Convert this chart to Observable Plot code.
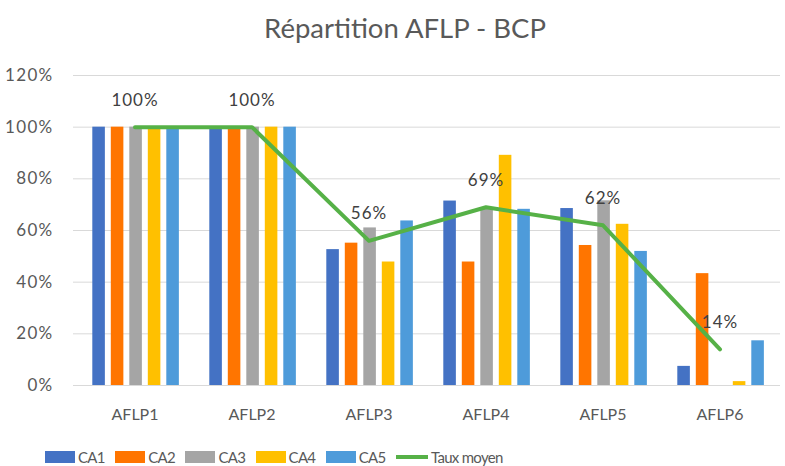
<!DOCTYPE html>
<html><head><meta charset="utf-8">
<script src="https://cdn.jsdelivr.net/npm/d3@7"></script>
<script src="https://cdn.jsdelivr.net/npm/@observablehq/plot@0.6"></script>
<style>
body{margin:0;background:#fff;font-family:Lato,"Open Sans",sans-serif;}
#wrap{position:relative;width:785px;height:466px;overflow:hidden;}
#title{position:absolute;top:11px;left:0;width:810px;text-align:center;font-size:27.5px;color:#595959;}
#chart{position:absolute;top:55px;left:0;}
#legend{position:absolute;top:448px;left:45px;display:flex;align-items:center;font-size:15px;letter-spacing:-0.7px;color:#595959;}
.item{display:flex;align-items:center;width:70.2px;}
.sw{width:30px;height:12px;margin-right:3px;flex:none;}
.ln{width:32px;height:4px;margin-right:3px;flex:none;}
#chart g[aria-label="y-axis tick label"] text{font-size:17px;letter-spacing:1.3px;}
#chart g[aria-label="text"] text{font-size:17px;letter-spacing:1px;}
</style></head>
<body><div id="wrap"><div id="title">Répartition AFLP - BCP</div><div id="chart"></div><div id="legend"></div></div>
<script>
const categories = ["AFLP1","AFLP2","AFLP3","AFLP4","AFLP5","AFLP6"];
const seriesNames = ["CA1","CA2","CA3","CA4","CA5"];
const ca1 = [100,100,52.6,71.4,68.5,7.4];
const ca2 = [100,100,55.1,47.8,54.2,43.3];
const ca3 = [100,100,61.0,68.2,71.5,0];
const ca4 = [100,100,47.8,89.1,62.4,1.5];
const ca5 = [100,100,63.7,68.2,51.9,17.3];
const tauxMoyen = [100,100,56,69,62,14];
const meanLabels = ["100%","100%","56%","69%","62%","14%"];
const yTicks = [0,20,40,60,80,100,120];
const colors = ["#4472C4","#FF7500","#A5A5A5","#FFC000","#4E9BDA"];
const lineColor = "#56B147";

const seriesValues = [ca1,ca2,ca3,ca4,ca5];
const W = 785, H = 375, mL = 73, mR = 5;
const bw = (W - mL - mR) / categories.length;
const barW = 13.4, pitch = 18.5, off = 16.3;

const barMarks = seriesNames.map((s, i) => {
  const rows = categories.map((c, j) => ({cat: c, value: seriesValues[i][j]}));
  const il = off + i * pitch;
  return Plot.barY(rows, {x: "cat", y: "value", fill: colors[i], insetLeft: il, insetRight: bw - il - barW});
});
const meanRows = categories.map((c, j) => ({cat: c, value: tauxMoyen[j], label: meanLabels[j]}));

const chart = Plot.plot({
  width: W, height: H,
  marginTop: 20, marginBottom: 45, marginLeft: mL, marginRight: mR,
  style: {fontFamily: "Lato, 'Open Sans', sans-serif", fontSize: "16px", color: "#595959", background: "transparent"},
  x: {domain: categories, padding: 0, tickSize: 0, tickPadding: 23, label: null},
  y: {domain: [0, 120], ticks: yTicks, tickSize: 0, tickPadding: 20, tickFormat: d => d + "%", label: null},
  marks: [
    Plot.ruleY(yTicks, {stroke: "#D9D9D9", strokeWidth: 1}),
    ...barMarks,
    Plot.lineY(meanRows, {x: "cat", y: "value", stroke: lineColor, strokeWidth: 4, strokeLinejoin: "round", strokeLinecap: "round"}),
    Plot.text(meanRows, {x: "cat", y: "value", text: "label", dy: -27, fontSize: 17, fill: "#404040"})
  ]
});
document.getElementById("chart").appendChild(chart);

const legend = document.getElementById("legend");
seriesNames.forEach((s, i) => {
  const it = document.createElement("div"); it.className = "item";
  it.innerHTML = `<div class="sw" style="background:${colors[i]}"></div><span>${s}</span>`;
  legend.appendChild(it);
});
const it = document.createElement("div"); it.className = "item"; it.style.width = "auto";
it.innerHTML = `<div class="ln" style="background:${lineColor}"></div><span>Taux moyen</span>`;
legend.appendChild(it);
</script></body></html>
